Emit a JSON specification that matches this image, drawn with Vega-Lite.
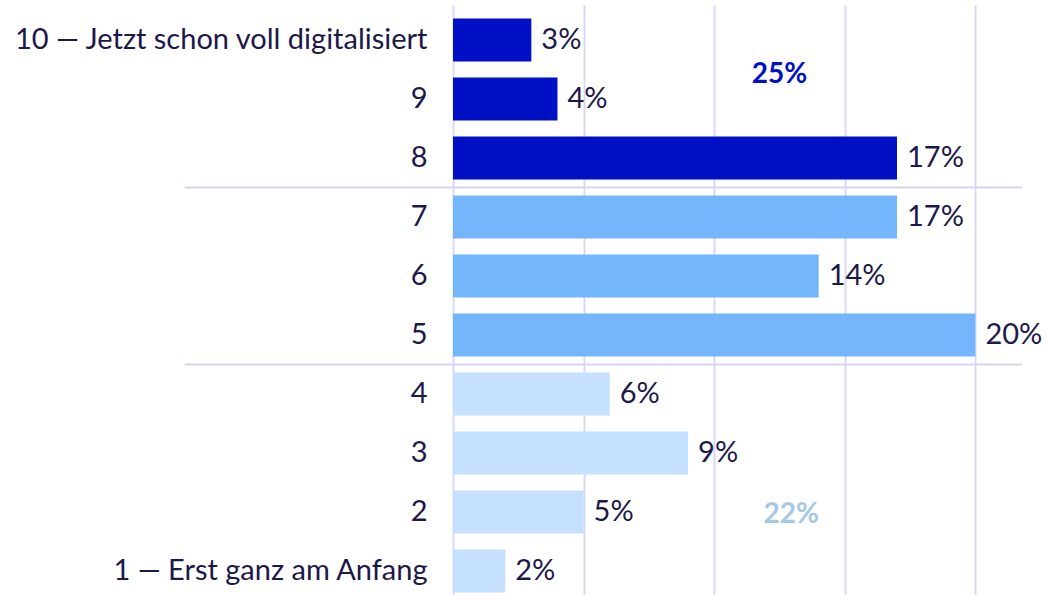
{
  "$schema": "https://vega.github.io/schema/vega-lite/v6.json",
  "autosize": "none",
  "width": 595,
  "height": 585,
  "padding": {"left": 453, "top": 10, "right": 0, "bottom": 0},
  "background": "#ffffff",
  "config": {"view": {"stroke": null}, "font": "Lato"},
  "datasets": {
    "main": [
      {"cat": "10 — Jetzt schon voll digitalisiert", "value": 3, "label": "3%", "group": "high"},
      {"cat": "9", "value": 4, "label": "4%", "group": "high"},
      {"cat": "8", "value": 17, "label": "17%", "group": "high"},
      {"cat": "7", "value": 17, "label": "17%", "group": "mid"},
      {"cat": "6", "value": 14, "label": "14%", "group": "mid"},
      {"cat": "5", "value": 20, "label": "20%", "group": "mid"},
      {"cat": "4", "value": 6, "label": "6%", "group": "low"},
      {"cat": "3", "value": 9, "label": "9%", "group": "low"},
      {"cat": "2", "value": 5, "label": "5%", "group": "low"},
      {"cat": "1 — Erst ganz am Anfang", "value": 2, "label": "2%", "group": "low"}
    ],
    "separators": [{"cat": "8"}, {"cat": "5"}]
  },
  "encoding": {
    "y": {
      "field": "cat",
      "type": "nominal",
      "sort": ["10 — Jetzt schon voll digitalisiert", "9", "8", "7", "6", "5", "4", "3", "2", "1 — Erst ganz am Anfang"],
      "scale": {"range": [0.5, 590.5], "paddingInner": 0.27, "paddingOuter": 0.135},
      "axis": {
        "title": null,
        "domain": false,
        "ticks": false,
        "labelPadding": 26,
        "labelFont": "Lato",
        "labelFontSize": 29,
        "labelColor": "#1c1848",
        "labelLimit": 600
      }
    }
  },
  "layer": [
    {
      "data": {"name": "main"},
      "mark": {"type": "bar"},
      "encoding": {
        "x": {
          "field": "value",
          "type": "quantitative",
          "scale": {"domain": [0, 22.78], "nice": false, "zero": true},
          "axis": {
            "title": null,
            "labels": false,
            "ticks": false,
            "domain": false,
            "values": [0, 5, 10, 15, 20],
            "grid": true,
            "gridColor": "#d9d9f6",
            "gridWidth": 2
          }
        },
        "color": {
          "field": "group",
          "type": "nominal",
          "scale": {"domain": ["high", "mid", "low"], "range": ["#0010c4", "#74b6fc", "#c6e1fd"]},
          "legend": null
        }
      }
    },
    {
      "data": {"name": "main"},
      "mark": {"type": "text", "align": "left", "baseline": "middle", "dx": 10, "fontSize": 29, "font": "Lato", "color": "#1c1848"},
      "encoding": {
        "x": {"field": "value", "type": "quantitative"},
        "text": {"field": "label"}
      }
    },
    {
      "data": {"name": "separators"},
      "mark": {"type": "rule", "color": "#d4d4f4", "strokeWidth": 2, "yOffset": 29.5},
      "encoding": {
        "x": {"datum": -10.27},
        "x2": {"datum": 21.8}
      }
    },
    {
      "data": {"values": [{"cat": "9", "label": "25%"}]},
      "mark": {"type": "text", "align": "center", "baseline": "middle", "fontSize": 28, "fontWeight": "bold", "font": "Lato", "color": "#0010c4", "dy": -24},
      "encoding": {
        "x": {"datum": 12.5},
        "text": {"field": "label"}
      }
    },
    {
      "data": {"values": [{"cat": "2", "label": "22%"}]},
      "mark": {"type": "text", "align": "center", "baseline": "middle", "fontSize": 28, "fontWeight": "bold", "font": "Lato", "color": "#a6c8e6", "dy": 3},
      "encoding": {
        "x": {"datum": 12.95},
        "text": {"field": "label"}
      }
    }
  ],
  "resolve": {"scale": {"color": "independent"}}
}
